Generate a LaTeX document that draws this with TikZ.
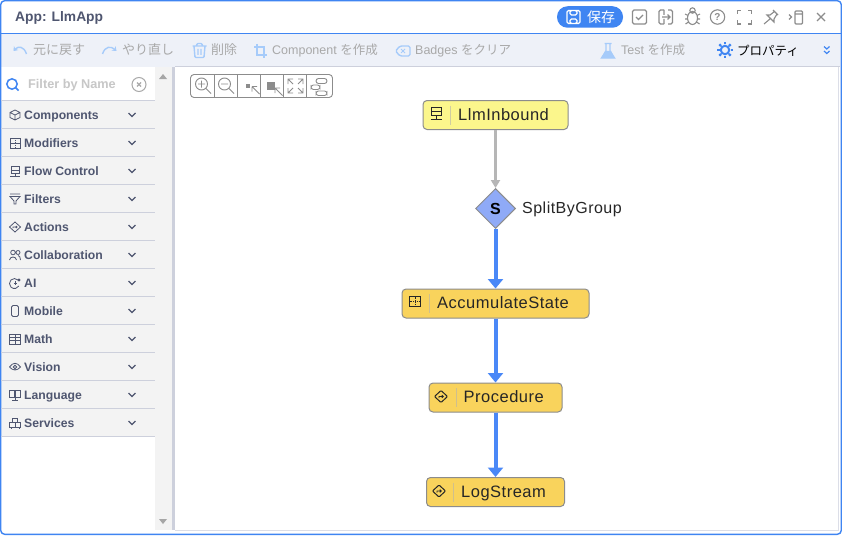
\documentclass[tikz,border=0pt]{standalone}
\usepackage{fontspec}
\usepackage{xcolor}
\setmainfont{Liberation Sans}
\newfontfamily\cjk{Noto Sans CJK JP}
\newfontfamily\flowfont[LetterSpace=3]{Liberation Sans}
\usetikzlibrary{arrows.meta,shapes.geometric}
\definecolor{framecol}{HTML}{3F85F2}
\definecolor{barcol}{HTML}{EEF1F8}
\definecolor{sidecol}{HTML}{F3F3F3}
\definecolor{rulecol}{HTML}{CDD0DC}
\definecolor{inkcol}{HTML}{4F5670}
\definecolor{fadecol}{HTML}{A9A9A9}
\definecolor{softblue}{HTML}{A6CBFA}
\definecolor{iconcol}{HTML}{8C8C8C}
\definecolor{paleyellow}{HTML}{FBF68C}
\definecolor{ambercol}{HTML}{F9D35C}
\definecolor{diamondcol}{HTML}{8FAAF7}
\definecolor{edgeblue}{HTML}{4A88F7}
\definecolor{edgegray}{HTML}{B6B6B6}
\tikzset{
    compnode/.style={draw=iconcol, line width=1pt, rounded corners=4pt, minimum height=29pt, inner sep=0pt},
    complabel/.style={anchor=west, inner sep=0pt, text height=11.5pt, text depth=3.5pt, font=\fontsize{16.5}{18}\flowfont, text=black!85},
    splitnode/.style={diamond, draw=iconcol, fill=diamondcol, line width=1pt, minimum width=40pt, minimum height=40pt, inner sep=0pt, font=\fontsize{16}{18}\selectfont\bfseries},
    flowgray/.style={draw=edgegray, line width=2.7pt, -{Triangle[length=8pt,width=9pt]}},
    flowblue/.style={draw=edgeblue, line width=4pt, -{Triangle[length=9.5pt,width=15pt]}},
    toollabel/.style={anchor=west, inner sep=0pt, text height=9.5pt, text depth=3pt, text=fadecol, font=\fontsize{12.5}{14}\selectfont},
    sidelabel/.style={anchor=west, inner sep=0pt, text height=9.5pt, text depth=3pt, text=inkcol, font=\fontsize{12.2}{14}\selectfont\bfseries},
    softicon/.style={draw=softblue, line width=1.4pt},
    grayicon/.style={draw=iconcol, line width=1.1pt},
    sideicon/.style={draw=inkcol, line width=.8pt},
    nodeicon/.style={draw=black!85, line width=.8pt}
}
% little icons, drawn round the origin
\newcommand{\iconcube}{\draw[sideicon] (-5,-2.5) -- (0,-5) -- (5,-2.5) -- (5,2.5) -- (0,5) -- (-5,2.5) -- cycle (-5,-2.5) -- (0,0) -- (5,-2.5) (0,0) -- (0,5);}
\newcommand{\iconmodif}{\draw[sideicon] (-5,-5) rectangle (5,5) (-5,0) -- (5,0); \draw[sideicon, densely dotted] (0,-5) -- (0,5);}
\newcommand{\iconflow}{\draw[sideicon] (-4,-5) rectangle (4,-1) (-4,-1) rectangle (4,2) (0,2) -- (0,5) (-5,5) -- (5,5);}
\newcommand{\iconfunnel}{\draw[sideicon] (-5,-5) -- (5,-5) (-5,-2.5) -- (5,-2.5) -- (1,2) -- (1,5) -- (-1,5) -- (-1,2) -- cycle;}
\newcommand{\icondiam}{\draw[sideicon] (-5.5,0) -- (0,-5) -- (5.5,0) -- (0,5) -- cycle (-2,1) -- (-2,0) -- (2,0) (1,-1) -- (2,0) -- (1,1);}
\newcommand{\iconpeople}{\draw[sideicon] (-2,-2.5) circle (2.3) (3,-2.5) circle (2) (-5.5,5) .. controls (-5,1) and (1,1) .. (1.5,5) (3,.5) .. controls (4.5,1) and (5.5,2) .. (5.5,5);}
\newcommand{\iconai}{\draw[sideicon] (3,-3) arc (-45:-330:5); \draw[sideicon] (-1,0) -- (1.5,0) (0,-2) -- (0,2); \fill[inkcol] (4,-3) circle (1.6);}
\newcommand{\iconphone}{\draw[sideicon, rounded corners=1.5pt] (-3.5,-5.5) rectangle (3.5,5.5);}
\newcommand{\iconmath}{\draw[sideicon] (-5.5,-5) rectangle (5.5,5) (-5.5,-1.5) -- (5.5,-1.5) (-5.5,1.7) -- (5.5,1.7) (0,-5) -- (0,5);}
\newcommand{\iconeye}{\draw[sideicon] (-5.5,0) .. controls (-2,-5) and (2,-5) .. (5.5,0) .. controls (2,4) and (-2,4) .. (-5.5,0) (0,0) circle (1.8);}
\newcommand{\iconbook}{\draw[sideicon] (-5.5,-5) rectangle (-.3,2) (.3,-5) rectangle (5.5,2) (0,2) -- (0,5) (-3,5) -- (3,5);}
\newcommand{\iconserv}{\draw[sideicon] (-2.5,-5) rectangle (2.5,-1) (-5.5,-1) rectangle (0,4) (0,-1) rectangle (5.5,4) (-4,4) -- (-4,5.5) (4,4) -- (4,5.5);}
\begin{document}
\begin{tikzpicture}[x=1pt, y=-1pt]
\useasboundingbox (0,0) rectangle (842,535);
% Window
\fill[white] (0,0) rectangle (842,535);
\fill[barcol] (1,34) rectangle (840,66.5);
\fill[sidecol] (1,100) rectangle (155,436);
\fill[sidecol] (155,67) rectangle (172,530);
\fill[rulecol] (172,67) rectangle (175,530);
\draw[rulecol, line width=1pt] (175,66.5) -- (840,66.5);
\draw[rulecol!70, line width=1pt] (175,530.5) -- (839,530.5) (838.5,67) -- (838.5,530);
\draw[framecol, line width=1pt] (0.5,33.5) -- (841.5,33.5);
\draw[framecol, line width=1.4pt, rounded corners=4pt] (0.7,0.7) rectangle (841.3,534.3);

% Title bar
\node[anchor=west, inner sep=0pt, text=inkcol, font=\fontsize{13.8}{16}\selectfont\bfseries] (apptitle) at (15,17.5) {App: LlmApp};
\node[fill=framecol, rounded corners=10.5pt, minimum width=66pt, minimum height=21.5pt, inner sep=0pt] (savepill) at (590,17) {};
\node[anchor=west, inner sep=0pt, text=white, font=\fontsize{14}{16}\selectfont\cjk] (savetext) at (587,17) {保存};
\draw[white, line width=1.3pt, rounded corners=1.5pt] (567,10.5) rectangle (580,23.5) (570,10.5) rectangle (577,15) (570,23.5) rectangle (577,19);

% Title bar icons
\draw[grayicon, rounded corners=1.5pt] (632.5,10) rectangle (646.5,24);
\draw[grayicon] (636,17) -- (638.5,19.5) -- (643,15);
\draw[grayicon, rounded corners=1.5pt] (664,10) -- (659,10) -- (659,24) -- (664,24) (668,10) -- (672.5,10) -- (672.5,24) -- (668,24);
\draw[grayicon] (664,10) -- (664,15) (664,19) -- (664,24) (662,17) -- (670,17) (667.5,14.5) -- (670,17) -- (667.5,19.5);
\draw[grayicon] (692.5,18) ellipse (5 and 6.5) (692.5,10.5) circle (2.7) (685,14) -- (688,15.5) (685,19) -- (687.5,19) (685.5,24) -- (688.5,22) (700,14) -- (697,15.5) (700,19) -- (697.5,19) (699.5,24) -- (696.5,22);
\draw[grayicon] (717.5,17) circle (7.2);
\node[inner sep=0pt, text=iconcol, font=\fontsize{10}{12}\selectfont\bfseries] (helpmark) at (717.5,17) {?};
\draw[grayicon, line width=1.3pt] (737.5,14) -- (737.5,10.5) -- (741,10.5) (748,10.5) -- (751.5,10.5) -- (751.5,14) (751.5,20) -- (751.5,24) -- (748,24) (741,24) -- (737.5,24) -- (737.5,20);
\draw[grayicon] (773,10) -- (778,15) (774.5,11.5) -- (770,15) -- (767,15) -- (774,22) -- (774,19) -- (777,14) (770.5,18.5) -- (764,24);
\draw[grayicon, rounded corners=1pt] (795,11) rectangle (802.5,24) (795,14) -- (802.5,14);
\draw[grayicon] (789,14.5) -- (791.5,17) -- (789,19.5);
\draw[iconcol, line width=1.2pt] (817,13) -- (825,21) (825,13) -- (817,21);

% Toolbar
\foreach \x/\t in {33/元に戻す,122/やり直し,211/削除} {
    \node[toollabel, font=\fontsize{13}{14}\selectfont\cjk] at (\x,51) {\t};
}
\node[toollabel] (maketext) at (272,51.5) {Component {\cjk を作成}};
\node[toollabel] (cleartext) at (415,51.5) {Badges {\cjk をクリア}};
\node[toollabel] (testtext) at (621,51.5) {Test {\cjk を作成}};
\node[anchor=west, inner sep=0pt, text=black, font=\fontsize{12.5}{15}\selectfont\cjk] (proptext) at (737,50.5) {プロパティ};
\draw[softicon, -{Stealth[length=4pt,width=6pt]}] (26.5,54) .. controls (24,46) and (18,46) .. (13.5,51);
\draw[softicon, -{Stealth[length=4pt,width=6pt]}] (102.5,54) .. controls (105,46) and (111,46) .. (116.5,51);
\draw[softicon, rounded corners=1pt] (194,46) -- (195,57.5) -- (204,57.5) -- (205,46) (192.5,46) -- (206.5,46) (196.5,46) -- (197,43.5) -- (202,43.5) -- (202.5,46) (198,49) -- (198,55) (201,49) -- (201,55);
\draw[softicon] (257,44) -- (257,55) -- (267,55) (254,47) -- (264,47) -- (264,58);
\draw[softicon, rounded corners=1.5pt] (395.5,51) -- (400,46) -- (410,46) -- (410,56) -- (400,56) -- cycle;
\draw[softblue, line width=1pt] (401,49) -- (405,53) (405,49) -- (401,53);
\fill[softblue] (605,51) -- (611,51) -- (614.5,58) -- (601.5,58) -- cycle;
\draw[softicon] (604.5,43.5) -- (611.5,43.5) (606,43.5) -- (606,51) -- (601.5,58) -- (614.5,58) -- (610,51) -- (610,43.5);
\draw[framecol, line width=2pt] (725,50) circle (4.2);
\foreach \a in {0,45,...,315} {
    \draw[framecol, line width=2.2pt] (\a:5.5) ++(725,50) -- ++(\a:2.6);
}
\draw[framecol, line width=1.2pt] (824,46.5) -- (826.8,49) -- (829.5,46.5) (824,51) -- (826.8,53.5) -- (829.5,51);

% Filter box
\draw[framecol, line width=1.5pt] (12,84) circle (5.2) (15.7,87.7) -- (18.5,90.5);
\node[anchor=west, inner sep=0pt, text=black!22, font=\fontsize{12.7}{14}\selectfont\bfseries] (filtertext) at (28,85) {Filter by Name};
\draw[fadecol, line width=1pt] (139,84.5) circle (7);
\draw[fadecol, line width=1.2pt] (137,82.5) -- (141,86.5) (141,82.5) -- (137,86.5);

% Component groups
\draw[rulecol, line width=1pt] (1,100.5) -- (155,100.5);
\foreach \i/\t/\ic in {0/Components/\iconcube,1/Modifiers/\iconmodif,2/Flow Control/\iconflow,3/Filters/\iconfunnel,
    4/Actions/\icondiam,5/Collaboration/\iconpeople,6/AI/\iconai,7/Mobile/\iconphone,8/Math/\iconmath,9/Vision/\iconeye,
    10/Language/\iconbook,11/Services/\iconserv} {
    \node[sidelabel] at (24,116+28*\i) {\t};
    \begin{scope}[shift={(15,115+28*\i)}]
        \ic
    \end{scope}
    \draw[inkcol, line width=1.2pt] (128.5,113+28*\i) -- (132,116.5+28*\i) -- (135.5,113+28*\i);
    \draw[rulecol, line width=1pt] (1,128.5+28*\i) -- (155,128.5+28*\i);
}

% Scroll arrows
\fill[black!35] (159,79) -- (167,79) -- (163,74) -- cycle;
\fill[black!35] (159,519) -- (167,519) -- (163,524) -- cycle;

% Zoom buttons
\draw[iconcol, line width=.9pt, rounded corners=3.5pt] (190.5,74.5) rectangle (332.5,97.5);
\foreach \x in {214.5,237.5,260.5,283.5,306.5} {
    \draw[iconcol, line width=.9pt] (\x,74.5) -- (\x,97.5);
}
\draw[iconcol, line width=.9pt] (201.5,84) circle (6) (206,88.5) -- (211,93.5) (198,84) -- (205,84) (201.5,80.5) -- (201.5,87.5);
\draw[iconcol, line width=.9pt] (224.5,84) circle (6) (229,88.5) -- (234,93.5) (221,84) -- (228,84);
\fill[iconcol] (246,84) rectangle (250,88);
\draw[iconcol, line width=.9pt] (252,86.5) -- (252,91.5) (252,86.5) -- (257,86.5) (252,86.5) -- (259.5,94);
\fill[iconcol] (267,82) rectangle (275,90);
\draw[iconcol, line width=.9pt] (275,88) -- (275,93) (275,88) -- (280,88) (275,88) -- (282.5,95.5);
\draw[iconcol, line width=.9pt] (288,84) -- (288,79) -- (293,79) (288,79) -- (293,84) (303,84) -- (303,79) -- (298,79) (303,79) -- (298,84) (288,88) -- (288,93) -- (293,93) (288,93) -- (293,88) (303,88) -- (303,93) -- (298,93) (303,93) -- (298,88);
\draw[iconcol, line width=.9pt, rounded corners=2.5pt] (316,78.5) rectangle (327,83.5) (311,85) rectangle (320,89.5) (316,91) rectangle (327,95.5);

% Flow
\foreach \n/\t/\c/\w/\y/\tx in {inbound/LlmInbound/paleyellow/145/115/458,
    accum/AccumulateState/ambercol/187/303.5/437,
    proc/Procedure/ambercol/133/397.5/463.5,
    logs/LogStream/ambercol/138/492/461} {
    \node[compnode, fill=\c, minimum width=\w pt] (\n) at (495.5,\y) {};
    \node[complabel] (\n text) at (\tx,\y+1) {\t};
    \draw[\c!70!black!60, line width=1pt] (\tx-7.5,\y-9.5) -- (\tx-7.5,\y+9.5);
}
\node[splitnode] (split) at (495.5,208.5) {S};
\node[anchor=west, inner sep=0pt, text=black!85, text height=11pt, text depth=3pt, font=\fontsize{16}{16}\flowfont] (splittext) at (522,209.5) {SplitByGroup};
\draw[flowgray] (inbound) -- (split);
\draw[flowblue] (split) -- (accum);
\draw[flowblue] (accum) -- (proc);
\draw[flowblue] (proc) -- (logs);

% Node icons
\begin{scope}[shift={(436,113.5)}]
    \draw[nodeicon] (-5,-6) rectangle (5,-2) (-5,-2) rectangle (5,2) (0,2) -- (0,5.5) (-5.5,5.5) -- (5.5,5.5);
\end{scope}
\begin{scope}[shift={(415,301.5)}]
    \draw[nodeicon] (-5.5,-5) rectangle (5.5,5);
    \draw[nodeicon, densely dotted] (-5.5,0) -- (5.5,0) (0,-5) -- (0,5);
\end{scope}
\foreach \x/\y in {441/396.5,439/491} {
    \begin{scope}[shift={(\x,\y)}]
        \draw[nodeicon, line width=1pt, rounded corners=.8pt] (-6.5,0) -- (0,-6) -- (6.5,0) -- (0,6) -- cycle;
        \draw[nodeicon] (-2,1.5) -- (-2,0) -- (2.2,0) (.8,-1.4) -- (2.2,0) -- (.8,1.4);
    \end{scope}
}
\end{tikzpicture}
\end{document}
